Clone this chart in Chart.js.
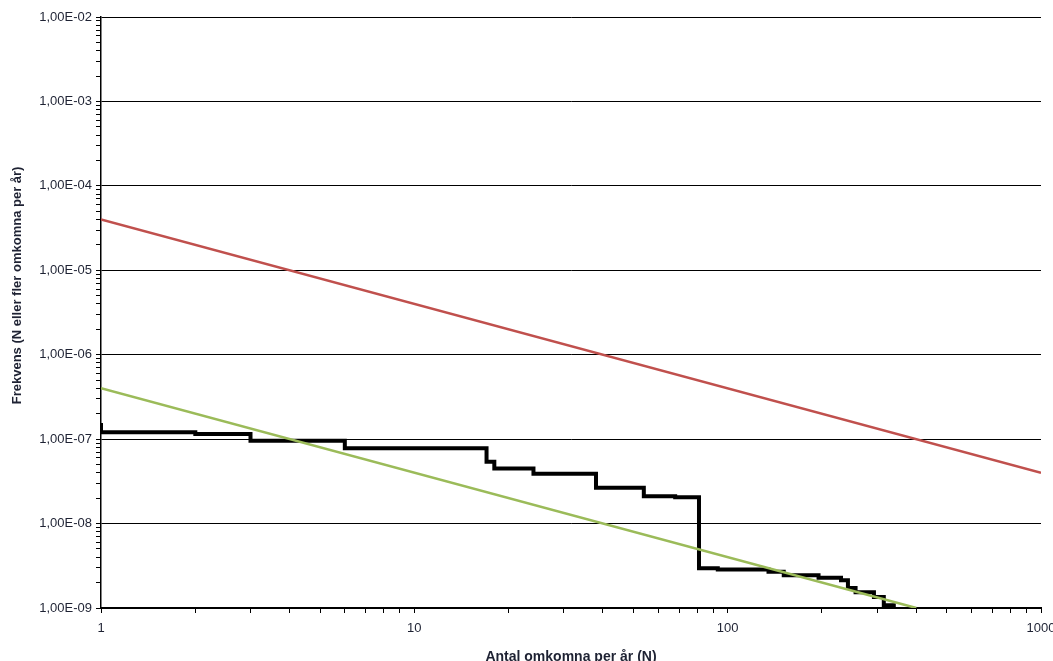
<!DOCTYPE html>
<html>
<head>
<meta charset="utf-8">
<script src="https://cdn.jsdelivr.net/npm/chart.js@4/dist/chart.umd.min.js"></script>
<style>
  html, body { margin: 0; padding: 0; background: #fff; }
  #wrap { position: relative; width: 1053px; height: 661px; }
</style>
</head>
<body>
<div id="wrap"><canvas id="c"></canvas></div>
<script>
// ---- data ----
const stepN = [1, 1, 2, 3, 6, 17, 18, 24, 38, 54, 68, 81, 93, 135, 151, 195, 230, 242, 256, 293, 315, 339];
const stepF = [1.55e-7, 1.21e-7, 1.15e-7, 9.6e-8, 7.8e-8, 5.4e-8, 4.5e-8, 3.9e-8, 2.65e-8, 2.1e-8, 2.05e-8,
               2.95e-9, 2.85e-9, 2.68e-9, 2.45e-9, 2.28e-9, 2.13e-9, 1.72e-9, 1.54e-9, 1.35e-9, 1.08e-9, 1.0e-9];
const upperN = [1, 1000];
const upperF = [4e-5, 4e-8];
const lowerN = [1, 400];
const lowerF = [4e-7, 1e-9];

const xMajorTicks = [1, 10, 100, 1000];
const xTickLabels = ['1', '10', '100', '1000'];
const yMajorTicks = [1e-9, 1e-8, 1e-7, 1e-6, 1e-5, 1e-4, 1e-3, 1e-2];
const yTickLabels = ['1,00E-09', '1,00E-08', '1,00E-07', '1,00E-06', '1,00E-05', '1,00E-04', '1,00E-03', '1,00E-02'];

const xTitle = 'Antal omkomna per år (N)';
const yTitle = 'Frekvens (N eller fler omkomna per år)';

// ---- helpers ----
const toPts = (xs, ys) => xs.map((x, i) => ({ x: x, y: ys[i] }));
function withMinors(majors) {
  const out = [];
  majors.forEach((m, i) => {
    out.push(m);
    if (i < majors.length - 1) {
      for (let k = 2; k <= 9; k++) out.push(m * k);
    }
  });
  return out;
}
function majorIndex(majors, v) {
  for (let i = 0; i < majors.length; i++) {
    if (Math.abs(v - majors[i]) <= majors[i] * 1e-6) return i;
  }
  return -1;
}

const textColor = '#1e2233';
const tickFont = { family: 'Liberation Sans, Arial, sans-serif', size: 13 };
const yTitleFont = { family: 'Liberation Sans, Arial, sans-serif', size: 13, weight: 'bold' };
const xTitleFont = { family: 'Liberation Sans, Arial, sans-serif', size: 14, weight: 'bold' };

// the reference's y title sits a little above the middle of the plot: pad its start
const yTitleShown = '               ' + yTitle;

new Chart(document.getElementById('c'), {
  type: 'scatter',
  data: {
    datasets: [
      {
        label: 'upper',
        data: toPts(upperN, upperF),
        showLine: true,
        borderColor: '#c0504d',
        borderWidth: 2.5,
        pointRadius: 0,
        order: 2
      },
      {
        label: 'lower',
        data: toPts(lowerN, lowerF),
        showLine: true,
        borderColor: '#9bbb59',
        borderWidth: 2.5,
        pointRadius: 0,
        order: 1
      },
      {
        label: 'FN',
        data: toPts(stepN, stepF),
        showLine: true,
        stepped: 'before',
        borderColor: '#000000',
        borderWidth: 4,
        borderJoinStyle: 'miter',
        pointRadius: 0,
        order: 3
      }
    ]
  },
  options: {
    responsive: true,
    maintainAspectRatio: false,
    animation: false,
    devicePixelRatio: 1,
    layout: { padding: { top: 17, right: 12, left: 0, bottom: 0 } },
    plugins: {
      legend: { display: false },
      tooltip: { enabled: false }
    },
    scales: {
      x: {
        type: 'logarithmic',
        min: 1,
        max: 1000,
        afterBuildTicks: (scale) => {
          scale.ticks = withMinors(xMajorTicks).map(v => ({ value: v }));
        },
        afterFit: (scale) => {
          scale.height = 53;
          scale.paddingLeft = 0;
          scale.paddingRight = 0;
        },
        ticks: {
          autoSkip: false,
          maxRotation: 0,
          minRotation: 0,
          color: textColor,
          font: tickFont,
          padding: 8,
          callback: (v) => {
            const i = majorIndex(xMajorTicks, v);
            return i >= 0 ? xTickLabels[i] : '';
          }
        },
        grid: {
          drawOnChartArea: false,
          drawTicks: true,
          tickLength: 5,
          tickColor: '#000',
          tickWidth: 1
        },
        border: { display: true, color: '#000', width: 2 },
        title: {
          display: true,
          text: xTitle,
          color: textColor,
          font: xTitleFont,
          padding: { top: 0, bottom: -5 }
        }
      },
      y: {
        type: 'logarithmic',
        min: 1e-9,
        max: 1e-2,
        afterBuildTicks: (scale) => {
          scale.ticks = withMinors(yMajorTicks).map(v => ({ value: v }));
        },
        afterFit: (scale) => {
          scale.width = 101;
          scale.paddingTop = 0;
          scale.paddingBottom = 0;
        },
        ticks: {
          autoSkip: false,
          color: textColor,
          font: tickFont,
          padding: 4,
          callback: (v) => {
            const i = majorIndex(yMajorTicks, v);
            return i >= 0 ? yTickLabels[i] : '';
          }
        },
        grid: {
          drawOnChartArea: true,
          drawTicks: true,
          tickLength: 5,
          color: (ctx) => (ctx.tick && majorIndex(yMajorTicks, ctx.tick.value) >= 0) ? '#000' : 'rgba(0,0,0,0)',
          tickColor: '#000',
          lineWidth: 1,
          tickWidth: 1
        },
        border: { display: true, color: '#000', width: 1.5 },
        title: {
          display: true,
          text: yTitleShown,
          color: textColor,
          font: yTitleFont,
          padding: { top: 10, bottom: 4 }
        }
      }
    }
  }
});
</script>
</body>
</html>
